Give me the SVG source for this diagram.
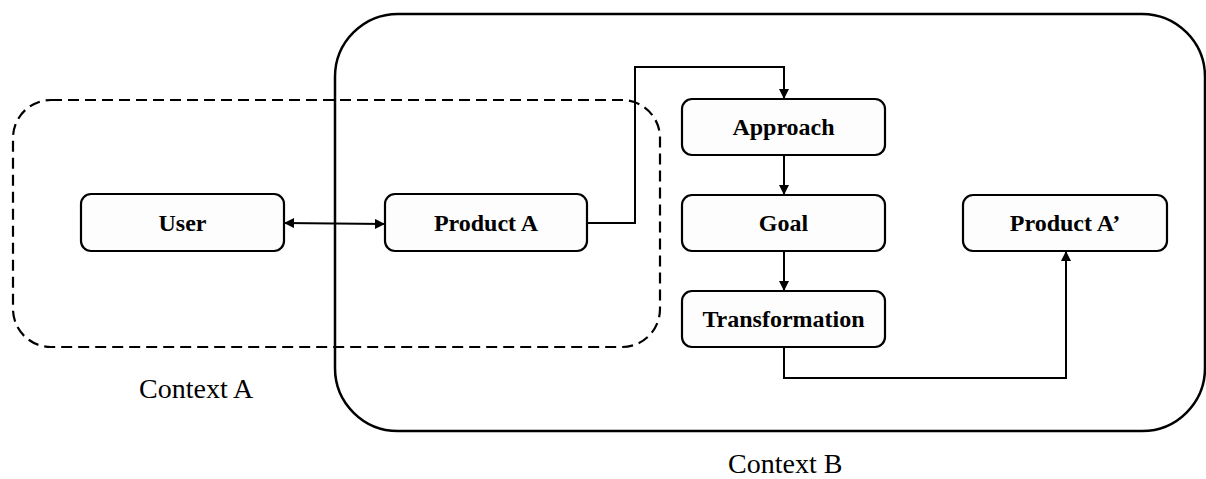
<svg xmlns="http://www.w3.org/2000/svg" width="1206" height="479" viewBox="0 0 1206 479">
  <defs>
    <marker id="arrow" viewBox="0 0 10 10" refX="10" refY="5" markerWidth="11" markerHeight="10" markerUnits="userSpaceOnUse" orient="auto-start-reverse">
      <path d="M0,0 L10,5 L0,10 Z" fill="#000"/>
    </marker>
    <style>
      .node rect { fill: #fdfdfd; stroke: #000; stroke-width: 2.2; }
      .node text { font-family: "Liberation Serif", "Times New Roman", serif; font-weight: bold; font-size: 24px; text-anchor: middle; fill: #000; }
      .conn { fill: none; stroke: #000; stroke-width: 2; }
      .ctx-label { font-family: "Liberation Serif", "Times New Roman", serif; font-size: 28px; fill: #000; }
    </style>
  </defs>

  <rect width="1206" height="479" fill="#fff"/>

  <!-- context frames -->
  <g id="context-b">
    <rect x="335" y="14" width="870" height="417" rx="63" fill="none" stroke="#000" stroke-width="2.5"/>
    <text class="ctx-label" x="728" y="473">Context B</text>
  </g>
  <g id="context-a">
    <rect x="13" y="100" width="647" height="247" rx="38" fill="none" stroke="#000" stroke-width="2.2" stroke-dasharray="11,6"/>
    <text class="ctx-label" x="139" y="398">Context A</text>
  </g>

  <!-- connectors -->
  <g id="connectors">
    <path class="conn" d="M284,223 L385,224" marker-start="url(#arrow)" marker-end="url(#arrow)"/>
    <path class="conn" d="M587,223 L635,223 L635,67 L784,67 L784,99" marker-end="url(#arrow)"/>
    <path class="conn" d="M784,155 L784,195" marker-end="url(#arrow)"/>
    <path class="conn" d="M784,251 L784,291" marker-end="url(#arrow)"/>
    <path class="conn" d="M784,347 L784,378 L1066,378 L1066,251" marker-end="url(#arrow)"/>
  </g>

  <!-- nodes -->
  <g id="user" class="node">
    <rect x="81" y="194" width="203" height="57" rx="10"/>
    <text x="182.5" y="231">User</text>
  </g>
  <g id="product-a" class="node">
    <rect x="385" y="194" width="202" height="57" rx="10"/>
    <text x="486" y="231">Product A</text>
  </g>
  <g id="approach" class="node">
    <rect x="682" y="99" width="203" height="56" rx="10"/>
    <text x="783.5" y="135">Approach</text>
  </g>
  <g id="goal" class="node">
    <rect x="682" y="195" width="203" height="56" rx="10"/>
    <text x="783.5" y="231">Goal</text>
  </g>
  <g id="transformation" class="node">
    <rect x="682" y="291" width="203" height="56" rx="10"/>
    <text x="783.5" y="327">Transformation</text>
  </g>
  <g id="product-a-prime" class="node">
    <rect x="963" y="195" width="204" height="56" rx="10"/>
    <text x="1065" y="231">Product A’</text>
  </g>
</svg>
